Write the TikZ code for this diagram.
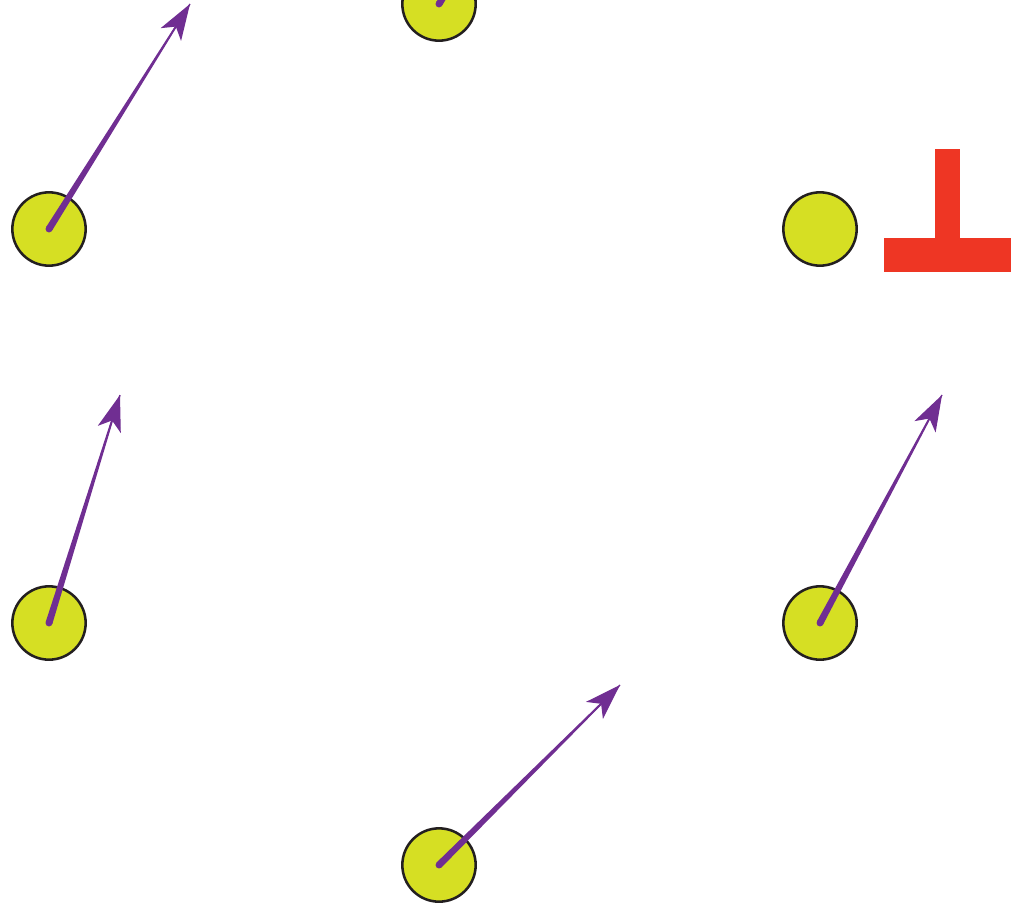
\documentclass[tikz,border=0pt]{standalone}
\usetikzlibrary{arrows.meta, calc}
\definecolor{cellfill}{RGB}{214,223,35}
\definecolor{cellline}{RGB}{35,31,32}
\definecolor{arrowcol}{RGB}{112,46,146}
\definecolor{blockred}{RGB}{238,54,36}
\tikzset{
  % Yellow cell body
  cell/.style={
    circle, draw=cellline, fill=cellfill, line width=1.9pt,
    minimum size=55pt, inner sep=0pt
  },
  % Thin arrow line carrying the big head
  spike/.style={
    draw=arrowcol, line width=1pt,
    -{Stealth[length=27pt, width=18pt, inset=7pt]}
  },
  % Red blocker bar
  bar/.style={fill=blockred}
}
% Tapered shaft: thick at the cell, thin towards the head
\newcommand{\taper}[2]{%
  \fill[arrowcol] ($(#1)!2.6pt!90:(#2)$) -- ($(#2)!0.5pt!-90:(#1)$)
    -- ($(#2)!0.5pt!90:(#1)$) -- ($(#1)!2.6pt!-90:(#2)$) -- cycle;
  \fill[arrowcol] (#1) circle[radius=2.6pt];}

\begin{document}
\begin{tikzpicture}[x=0.75pt, y=-0.75pt]
\useasboundingbox (0,0) rectangle (1023,902);
\clip (0,0) rectangle (1023,902);

% ============================================================
% CELLS
% ============================================================
\node[cell] (top)   at (439,4)   {};
\node[cell] (ul)    at (49,229)  {};
\node[cell] (ur)    at (820,229) {};
\node[cell] (ll)    at (49,623)  {};
\node[cell] (lr)    at (820,623) {};
\node[cell] (bot)   at (439,865) {};

% ============================================================
% ARROW ENDS
% ============================================================
\coordinate (top-tip) at (475,-50);
\coordinate (ul-tip)  at (190,4);
\coordinate (ll-tip)  at (120,395);
\coordinate (lr-tip)  at (942,395);
\coordinate (bot-tip) at (620,685);

% ============================================================
% ARROWS
% ============================================================
\taper{top.center}{top-tip}
\taper{ul.center}{ul-tip}
\taper{ll.center}{ll-tip}
\taper{lr.center}{lr-tip}
\taper{bot.center}{bot-tip}

\draw[spike] (top.center) -- (top-tip);
\draw[spike] (ul.center)  -- (ul-tip);
\draw[spike] (ll.center)  -- (ll-tip);
\draw[spike] (lr.center)  -- (lr-tip);
\draw[spike] (bot.center) -- (bot-tip);

% ============================================================
% BLOCKER (red T next to the right cell)
% ============================================================
\fill[bar] (935,149) rectangle (960,240);
\fill[bar] (884,238) rectangle (1011,272);

\end{tikzpicture}
\end{document}
